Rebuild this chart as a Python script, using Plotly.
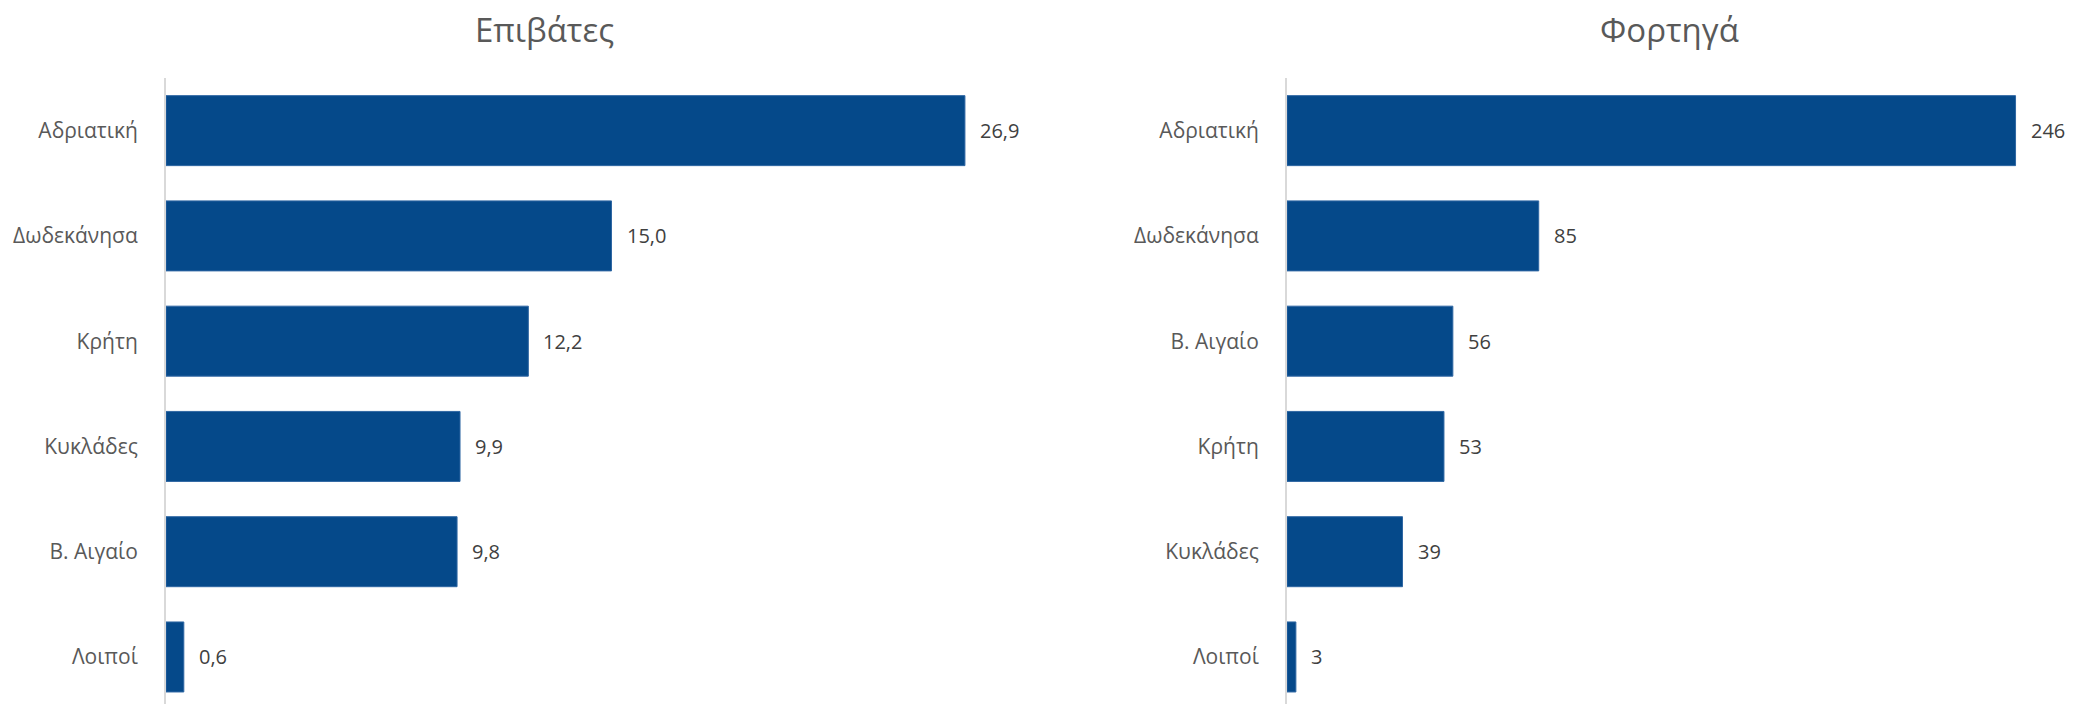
import plotly.graph_objects as go
from plotly.subplots import make_subplots

PASSENGER_REGIONS = ["Αδριατική", "Δωδεκάνησα", "Κρήτη", "Κυκλάδες", "Β. Αιγαίο", "Λοιποί"]
PASSENGER_VALUES = [26.9, 15.0, 12.2, 9.9, 9.8, 0.6]

FREIGHT_REGIONS = ["Αδριατική", "Δωδεκάνησα", "Β. Αιγαίο", "Κρήτη", "Κυκλάδες", "Λοιποί"]
FREIGHT_VALUES = [246, 85, 56, 53, 39, 3]

TITLES = ["Επιβάτες", "Φορτηγά"]

BAR_COLOR = "#05498A"
FONT = "Open Sans, sans-serif"
W, H = 2082, 704
PAGE_OFF = 8  # default body margin of the html page
TOP = 78 - PAGE_OFF

fig = make_subplots(rows=1, cols=2)

panels = [
    (PASSENGER_REGIONS, PASSENGER_VALUES, "{:.1f}", 1),
    (FREIGHT_REGIONS, FREIGHT_VALUES, "{:.0f}", 2),
]

for regions, values, fmt, col in panels:
    fig.add_trace(
        go.Bar(
            x=values,
            y=regions,
            orientation="h",
            marker={"color": BAR_COLOR, "line": {"width": 1, "color": "#2f67a3"}},
            hoverinfo="skip",
            showlegend=False,
        ),
        row=1,
        col=col,
    )
    xref = "x" if col == 1 else "x2"
    yref = "y" if col == 1 else "y2"
    for region, value in zip(regions, values):
        fig.add_annotation(
            x=value,
            y=region,
            xref=xref,
            yref=yref,
            text=fmt.format(value).replace(".", ","),
            xanchor="left",
            xshift=13,
            showarrow=False,
            font={"size": 20, "color": "#404040", "family": FONT},
        )

left_dom = [(166 - PAGE_OFF) / W, (1057 - PAGE_OFF) / W]
right_dom = [(1287 - PAGE_OFF) / W, (2057 - PAGE_OFF) / W]

fig.update_layout(
    width=W,
    height=H,
    margin={"l": 0, "r": 0, "t": TOP, "b": 0},
    paper_bgcolor="white",
    plot_bgcolor="white",
    bargap=0.335,
    font={"family": FONT, "color": "#595959"},
    xaxis={"domain": left_dom, "range": [0, 30], "visible": False},
    xaxis2={"domain": right_dom, "range": [0, 260], "visible": False},
)

for key in ["yaxis", "yaxis2"]:
    fig.layout[key].update(
        range=[5.5 - (709.6 - PAGE_OFF - H) / 105.2, -0.5],
        showline=True,
        linecolor="#d9d9d9",
        linewidth=2,
        showgrid=False,
        zeroline=False,
        ticks="",
        ticklabelstandoff=22,
        tickfont={"size": 21, "color": "#595959", "family": FONT},
    )

title_y = 1 + (TOP - (29 - PAGE_OFF)) / (H - TOP)
for title, cx in zip(TITLES, [544 - PAGE_OFF, 1669 - PAGE_OFF]):
    fig.add_annotation(
        text=title,
        x=cx / W,
        y=title_y,
        xref="paper",
        yref="paper",
        yanchor="middle",
        xanchor="center",
        showarrow=False,
        font={"size": 33, "color": "#595959", "family": FONT},
    )

fig.write_html("out.html")
